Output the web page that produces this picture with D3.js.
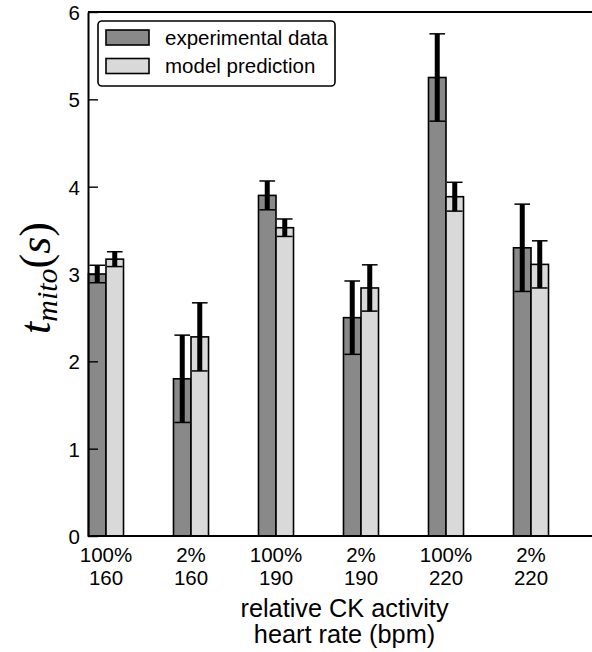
<!DOCTYPE html>
<html>
<head>
<meta charset="utf-8">
<script src="https://cdn.jsdelivr.net/npm/d3@7/dist/d3.min.js"></script>
<style>
  html, body { margin: 0; padding: 0; background: #fff; }
  svg { display: block; }
  text { font-family: "Liberation Sans", Arial, Helvetica, sans-serif; fill: #000; }
</style>
</head>
<body>
<svg id="chart" width="592" height="652"></svg>
<script>
// Relative CK activity and heart rate for each condition
const ckActivity = ["100%", "2%", "100%", "2%", "100%", "2%"];
const heartRate  = ["160", "160", "190", "190", "220", "220"];

// t_mito (s): measured values with error, and model prediction with error
const experimental    = [3.00, 1.80, 3.90, 2.50, 5.25, 3.30];
const experimentalErr = [0.10, 0.50, 0.165, 0.42, 0.50, 0.50];
const model           = [3.17, 2.28, 3.53, 2.84, 3.885, 3.11];
const modelErr        = [0.085, 0.39, 0.10, 0.265, 0.165, 0.27];

const yTicks = [0, 1, 2, 3, 4, 5, 6];
const seriesNames = ["experimental data", "model prediction"];
const seriesColors = ["#898989", "#d9d9d9"];

const svg = d3.select("#chart");
const plotLeft = 88, plotRight = 600, plotTop = 12, plotBottom = 536;

const x = d3.scaleLinear().domain([-0.2118, 5.8118]).range([plotLeft, plotRight]);
const y = d3.scaleLinear().domain([0, 6]).range([plotBottom, plotTop]);
const barW = 0.206; // bar width in x units

const series = [
  { name: seriesNames[0], values: experimental, errs: experimentalErr, color: seriesColors[0], offset: -barW },
  { name: seriesNames[1], values: model, errs: modelErr, color: seriesColors[1], offset: 0 }
];

// Bars
series.forEach(s => {
  svg.append("g").selectAll("rect")
    .data(s.values)
    .join("rect")
    .attr("x", (d, i) => x(i + s.offset))
    .attr("width", (d, i) => x(i + s.offset + barW) - x(i + s.offset))
    .attr("y", d => y(d))
    .attr("height", d => y(0) - y(d))
    .attr("fill", s.color)
    .attr("stroke", "#000")
    .attr("stroke-width", 1.6);
});

// Error bars: thick stem with thin caps
const capHalf = 0.092;
series.forEach(s => {
  const g = svg.append("g");
  s.values.forEach((v, i) => {
    const cx = x(i + s.offset + barW / 2);
    const lo = v - s.errs[i], hi = v + s.errs[i];
    g.append("line")
      .attr("x1", cx).attr("x2", cx)
      .attr("y1", y(lo)).attr("y2", y(hi))
      .attr("stroke", "#000").attr("stroke-width", 5);
    [lo, hi].forEach(e => {
      g.append("line")
        .attr("x1", x(i + s.offset + barW / 2 - capHalf))
        .attr("x2", x(i + s.offset + barW / 2 + capHalf))
        .attr("y1", y(e)).attr("y2", y(e))
        .attr("stroke", "#000").attr("stroke-width", 1.5);
    });
  });
});

// Frame: left axis, top and bottom lines
svg.append("line").attr("x1", plotLeft).attr("x2", plotRight).attr("y1", plotTop).attr("y2", plotTop)
  .attr("stroke", "#000").attr("stroke-width", 2);
svg.append("line").attr("x1", plotLeft).attr("x2", plotRight).attr("y1", plotBottom).attr("y2", plotBottom)
  .attr("stroke", "#000").attr("stroke-width", 2);

const yAxis = svg.append("g")
  .attr("transform", `translate(${plotLeft},0)`)
  .call(d3.axisLeft(y).tickValues(yTicks).tickFormat(d3.format("d"))
    .tickSizeInner(-10).tickSizeOuter(0).tickPadding(8));
yAxis.select(".domain").attr("stroke", "#000").attr("stroke-width", 2);
yAxis.selectAll(".tick line").attr("stroke", "#000").attr("stroke-width", 1.4);
yAxis.selectAll(".tick text")
  .style("font-family", '"Liberation Sans", Arial, sans-serif')
  .attr("font-size", 20.5).attr("dy", "0.36em").attr("fill", "#000");

// Category labels, two lines each
const xLab = svg.append("g");
ckActivity.forEach((c, i) => {
  const t = xLab.append("text")
    .attr("x", x(i)).attr("text-anchor", "middle").attr("font-size", 20.5);
  t.append("tspan").attr("x", x(i)).attr("y", 561.5).text(c);
  t.append("tspan").attr("x", x(i)).attr("y", 585).text(heartRate[i]);
});

// Axis titles
svg.append("text").attr("x", 344.5).attr("y", 616.5).attr("text-anchor", "middle")
  .attr("font-size", 25.3).text("relative CK activity");
svg.append("text").attr("x", 344.5).attr("y", 643).attr("text-anchor", "middle")
  .attr("font-size", 25.3).text("heart rate (bpm)");

const yTitle = svg.append("text")
  .attr("transform", "translate(50,278) rotate(-90)")
  .attr("text-anchor", "middle")
  .style("font-family", '"Liberation Serif", "Times New Roman", serif');
yTitle.append("tspan").attr("font-size", 44).attr("font-style", "italic").text("t");
yTitle.append("tspan").attr("font-size", 30).attr("font-style", "italic").attr("dy", 7).text("mito");
yTitle.append("tspan").attr("font-size", 44).attr("dy", -7).text("(");
yTitle.append("tspan").attr("font-size", 44).attr("font-style", "italic").text("s");
yTitle.append("tspan").attr("font-size", 44).text(")");

// Legend
const legend = svg.append("g");
legend.append("rect").attr("x", 98).attr("y", 21).attr("width", 237).attr("height", 65)
  .attr("rx", 4).attr("fill", "#fff").attr("stroke", "#000").attr("stroke-width", 1.6);
series.forEach((s, k) => {
  legend.append("rect").attr("x", 106).attr("y", 30 + k * 28.5).attr("width", 43).attr("height", 15)
    .attr("fill", s.color).attr("stroke", "#000").attr("stroke-width", 1.6);
  legend.append("text").attr("x", 165).attr("y", 44.5 + k * 28.5)
    .attr("font-size", 20.5).text(s.name);
});
</script>
</body>
</html>
